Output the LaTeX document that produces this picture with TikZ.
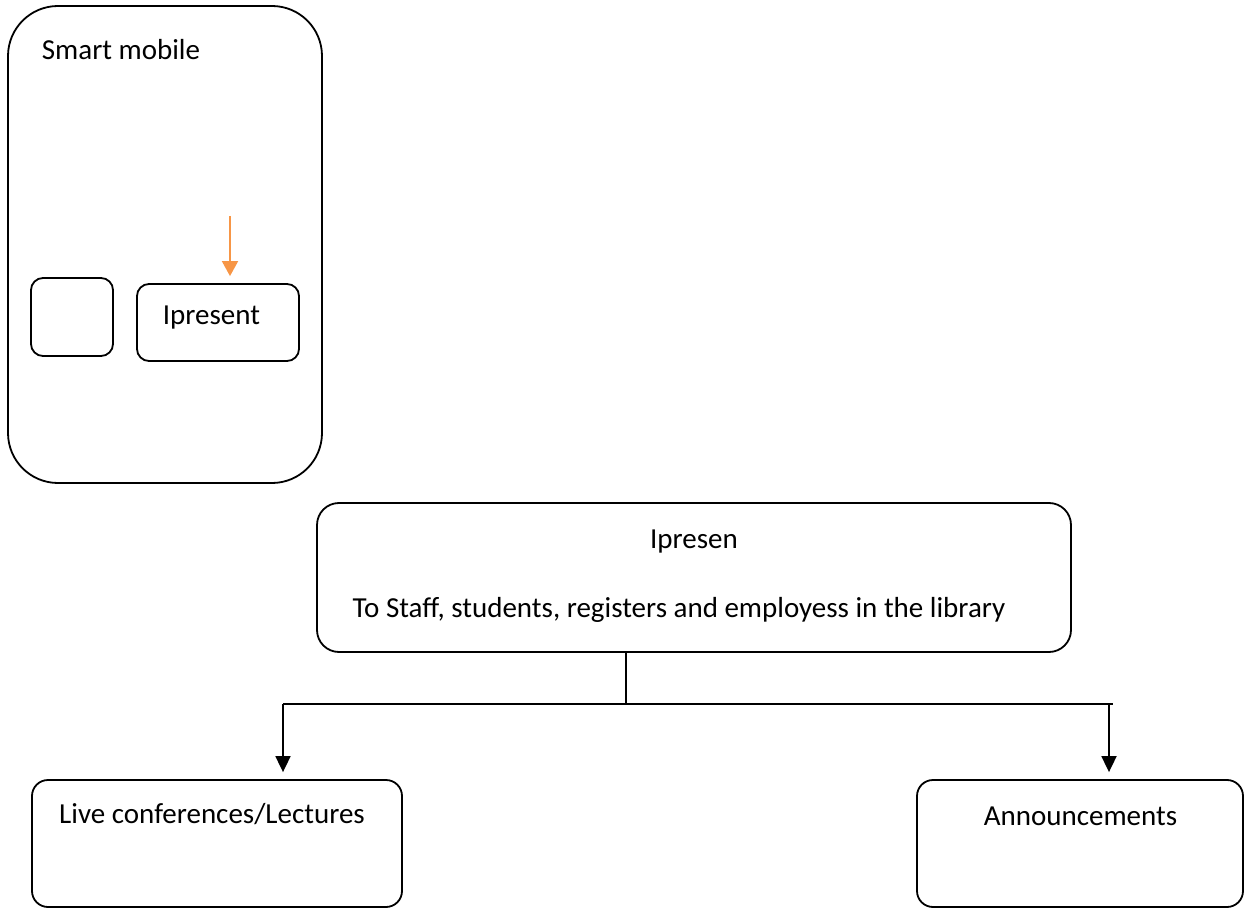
\documentclass[tikz,border=0pt]{standalone}
\usepackage{fontspec}
\setmainfont{Carlito}
\usetikzlibrary{arrows.meta,calc}
\definecolor{accentorange}{RGB}{247,150,70}
\begin{document}
\begin{tikzpicture}[x=1pt,y=-1pt,
  line width=1.8pt,
  box/.style={draw=black,rectangle,inner sep=0pt},
  label/.style={inner sep=0pt,font=\fontsize{29}{34}\selectfont},
  flow/.style={-{Triangle[width=15pt,length=16pt]}},
  pointer/.style={draw=accentorange,-{Triangle[width=16pt,length=15pt]},color=accentorange}]
  \useasboundingbox (0,0) rectangle (1248,909);

  % phone outline and its two app tiles
  \node[box,rounded corners=50pt,minimum width=314pt,minimum height=477pt] (phone) at (165,244.5) {};
  \node[label,anchor=base west] (phonetitle) at (41,60) {Smart mobile};
  \node[box,rounded corners=12pt,minimum width=82pt,minimum height=78pt] (tile) at (72,317) {};
  \node[box,rounded corners=12pt,minimum width=162pt,minimum height=77pt] (ipbox) at (218,322.5) {};
  \node[label,anchor=base west] (iptext) at (162,325) {Ipresent};
  \coordinate (ptrtop) at (230,216);
  \draw[pointer] (ptrtop) -- ([xshift=12pt,yshift=7pt]ipbox.north);

  % central service box
  \node[box,rounded corners=22pt,minimum width=754pt,minimum height=149pt] (main) at (694,577.5) {};
  \node[label,anchor=base] (maintitle) at (694,548) {Ipresen};
  \node[label,anchor=base] (maintext) at (679,617) {To Staff, students, registers and employess in the library};

  % output boxes
  \node[box,rounded corners=16pt,minimum width=370pt,minimum height=127pt] (live) at (217,843.5) {};
  \node[label,anchor=base] (livetext) at (212,823) {Live conferences/Lectures};
  \node[box,rounded corners=16pt,minimum width=326pt,minimum height=127pt] (ann) at (1080,843.5) {};
  \node[label,anchor=base] (anntext) at (1080.5,825) {Announcements};

  % branching connector
  \coordinate (stem) at ([xshift=-68pt]main.south);
  \coordinate (fork) at (626,704);
  \coordinate (leftcorner) at (283,704);
  \coordinate (rightcorner) at (1109,704);
  \coordinate (rightend) at (1113,704);
  \draw (stem) -- (fork);
  \draw (leftcorner) -- (rightend);
  \draw[flow] (leftcorner) -- ([yshift=7pt]live.north -| leftcorner);
  \draw[flow] (rightcorner) -- ([yshift=7pt]ann.north -| rightcorner);
\end{tikzpicture}
\end{document}
